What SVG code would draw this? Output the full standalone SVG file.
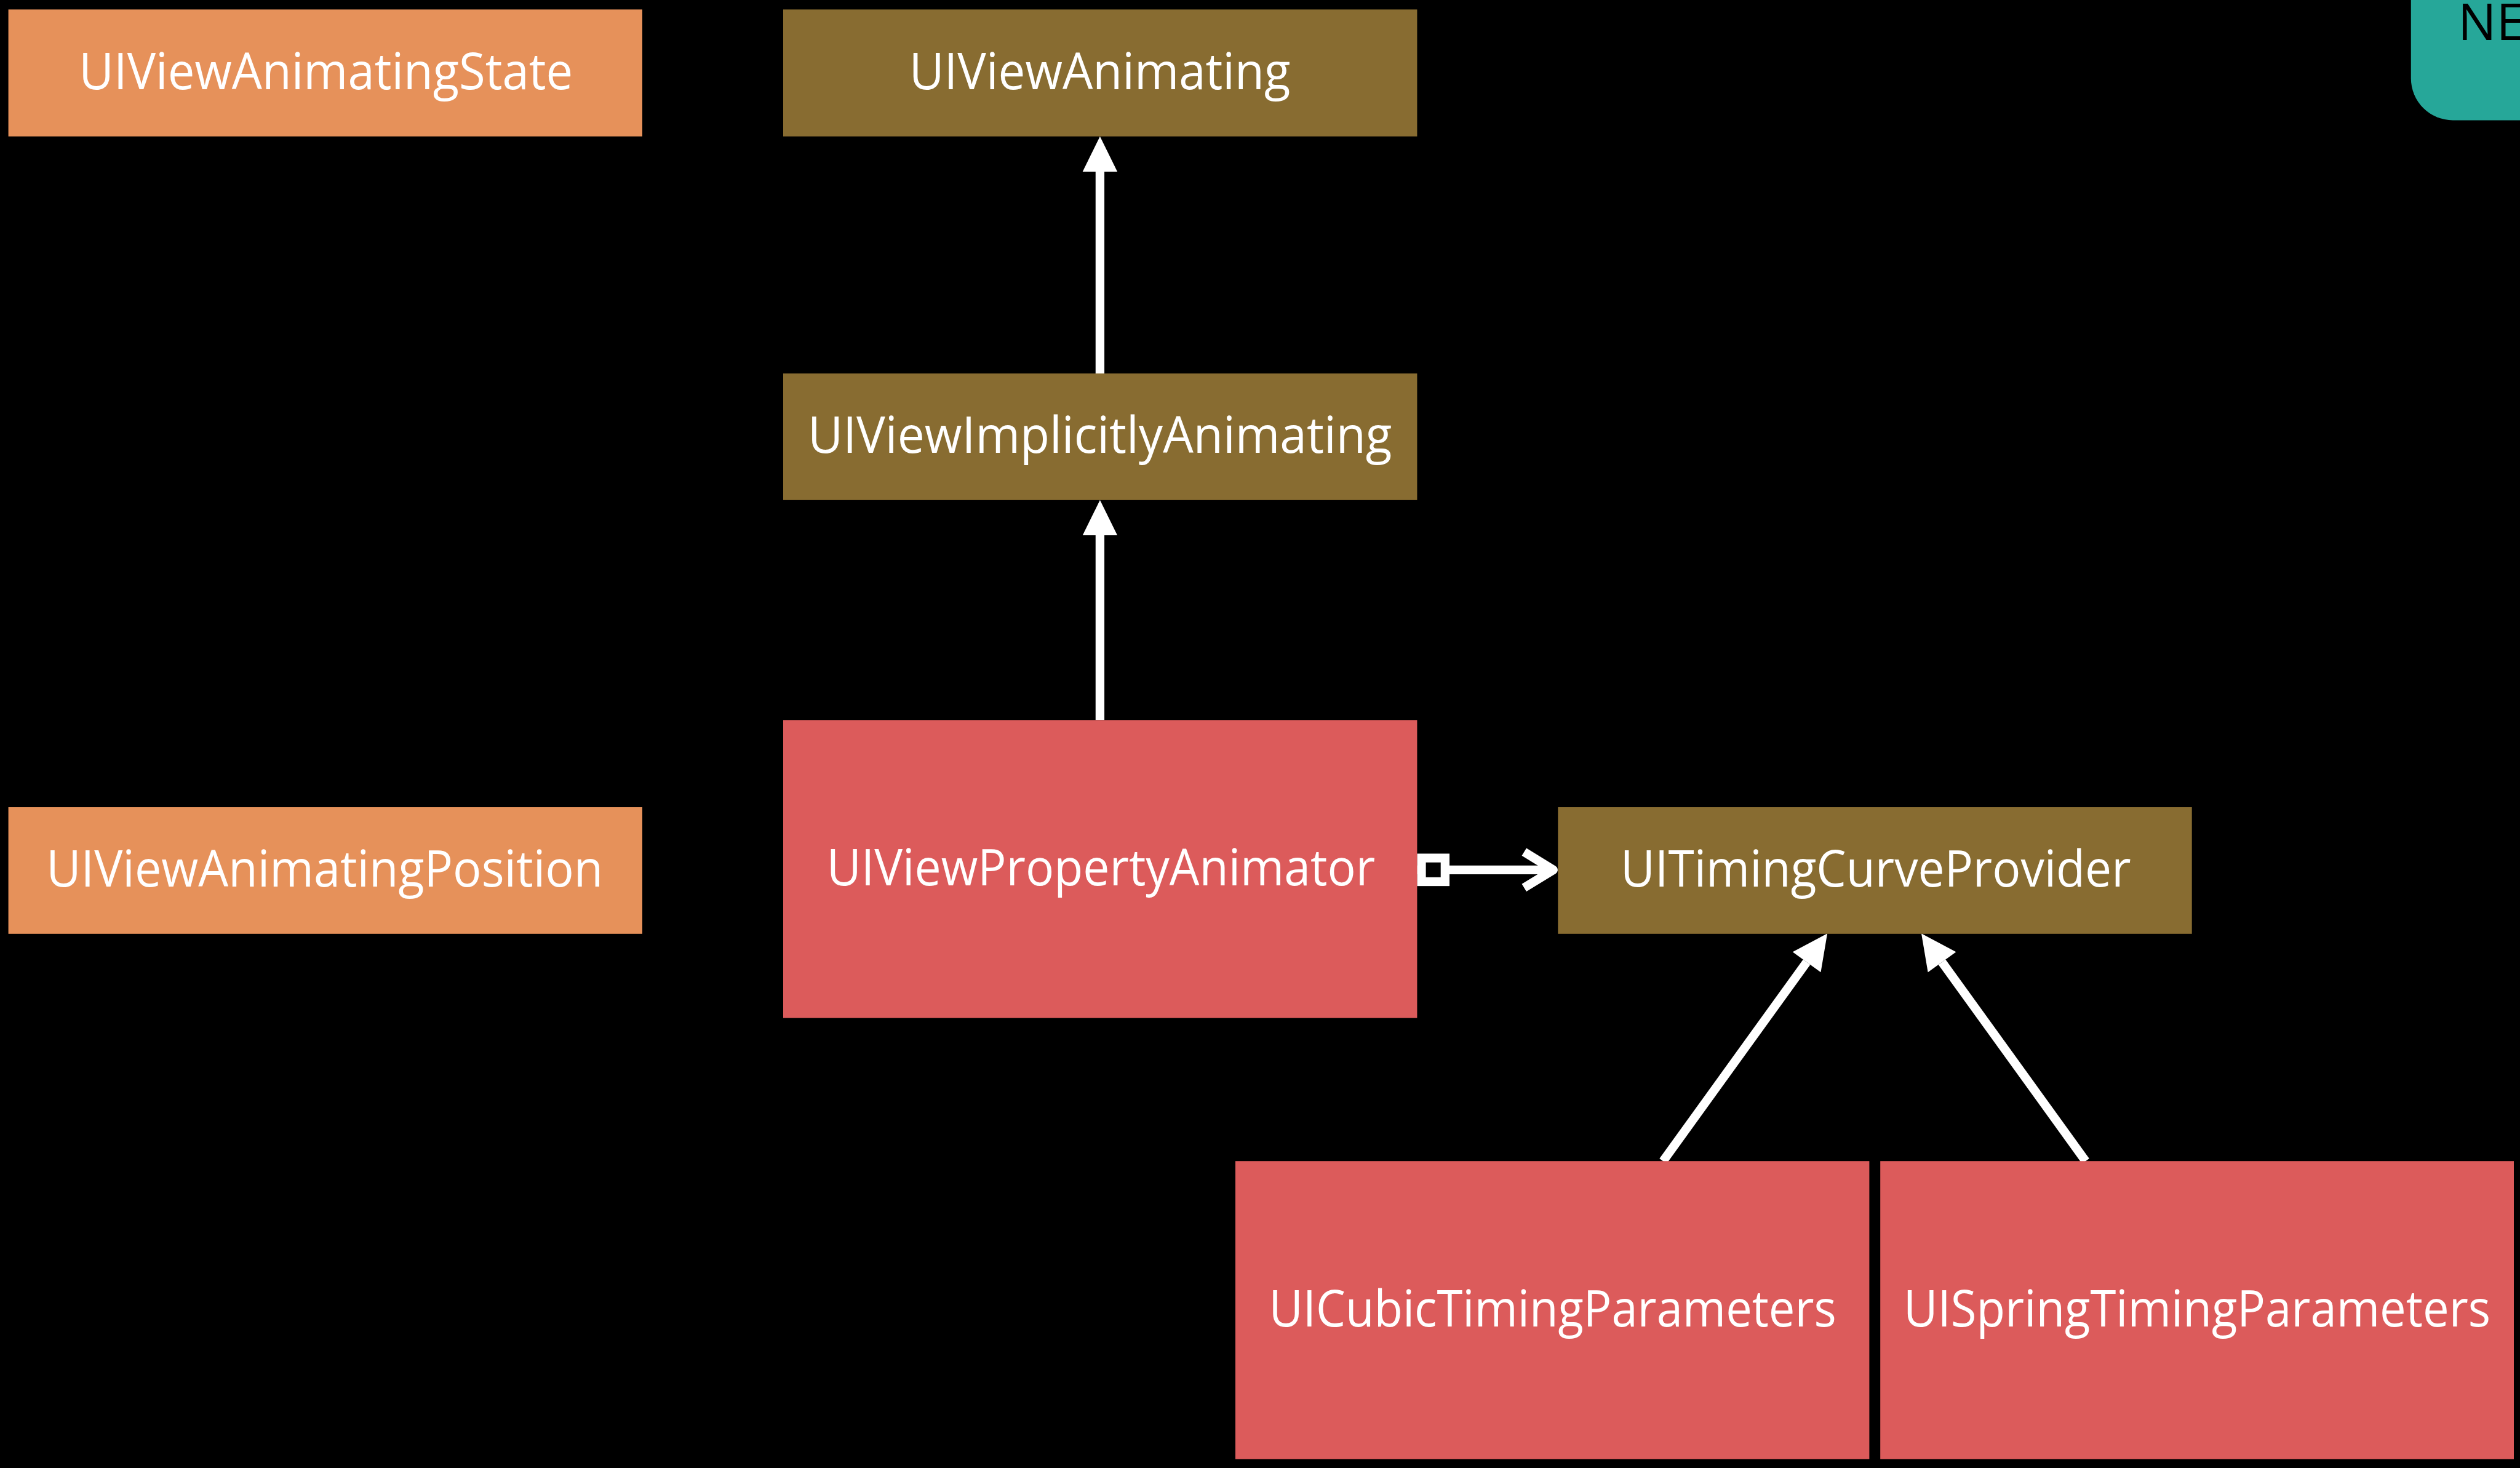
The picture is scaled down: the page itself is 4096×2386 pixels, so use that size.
<svg xmlns="http://www.w3.org/2000/svg" width="4096" height="2386" viewBox="0 0 4096 2386">
  <style>
    .bg { fill: #000000; }
    .protocol { fill: #886C31; }
    .enum { fill: #E6915A; }
    .class { fill: #DC5B5B; }
    .badge { fill: #26A799; }
    .label { font-family: "Open Sans", "Noto Sans", "Liberation Sans", sans-serif; font-size: 83px; fill: #FFFFFF; text-anchor: middle; }
    .badge-label { font-family: "Open Sans", "Noto Sans", "Liberation Sans", sans-serif; font-size: 83px; fill: #000000; }
    .edge { stroke: #FFFFFF; stroke-width: 14.3; fill: none; }
  </style>
  <defs>
    <!-- filled triangle head for inheritance / conformance -->
    <marker id="head-filled" markerUnits="userSpaceOnUse" orient="auto" refX="0" refY="28.2" markerWidth="58" markerHeight="57" overflow="visible">
      <path d="M0,0 L57.2,28.2 L0,56.4 Z" fill="#FFFFFF"/>
    </marker>
    <!-- open chevron head for the association -->
    <marker id="head-open" markerUnits="userSpaceOnUse" orient="auto" refX="0" refY="0" markerWidth="60" markerHeight="70" overflow="visible">
      <path d="M-47.5,-29.1 L0,0 L-47.5,29.1" fill="none" stroke="#FFFFFF" stroke-width="14.3" stroke-linejoin="round"/>
    </marker>
    <!-- hollow square on the owning end -->
    <marker id="tail-square" markerUnits="userSpaceOnUse" orient="auto" refX="0" refY="0" markerWidth="60" markerHeight="60" overflow="visible">
      <rect x="7.15" y="-19.2" width="38.4" height="38.4" fill="#000000" stroke="#FFFFFF" stroke-width="14.3"/>
    </marker>
  </defs>

  <rect class="bg" x="0" y="0" width="4096" height="2386"/>

  <!-- badge in the top right corner -->
  <g id="badge-new">
    <rect class="badge" x="3918.8" y="-120" width="300" height="315.4" rx="68" ry="68"/>
    <text class="badge-label" x="3995" y="64.5">NEW</text>
  </g>

  <g id="connectors">
    <!-- UIViewImplicitlyAnimating -> UIViewAnimating -->
    <path class="edge" d="M1787.9,607 L1787.9,278.9" marker-end="url(#head-filled)"/>
    <!-- UIViewPropertyAnimator -> UIViewImplicitlyAnimating -->
    <path class="edge" d="M1787.9,1170.3 L1787.9,870" marker-end="url(#head-filled)"/>
    <!-- UIViewPropertyAnimator -> UITimingCurveProvider -->
    <path class="edge" d="M2303.3,1413.8 L2524.8,1413.8" marker-start="url(#tail-square)" marker-end="url(#head-open)"/>
    <!-- UICubicTimingParameters -> UITimingCurveProvider -->
    <path class="edge" d="M2703.1,1887.2 L2936.6,1563.7" marker-end="url(#head-filled)"/>
    <!-- UISpringTimingParameters -> UITimingCurveProvider -->
    <path class="edge" d="M3390.0,1887.2 L3156.5,1563.7" marker-end="url(#head-filled)"/>
  </g>

  <g id="node-uiviewanimatingstate">
    <rect class="enum" x="13.6" y="15.4" width="1030.4" height="206.3"/>
    <text class="label" x="529.7" y="144.5" textLength="803" lengthAdjust="spacingAndGlyphs">UIViewAnimatingState</text>
  </g>

  <g id="node-uiviewanimating">
    <rect class="protocol" x="1273" y="15.4" width="1030.4" height="206.3"/>
    <text class="label" x="1787.5" y="144.5" textLength="619.7" lengthAdjust="spacingAndGlyphs">UIViewAnimating</text>
  </g>

  <g id="node-uiviewimplicitlyanimating">
    <rect class="protocol" x="1273" y="607" width="1030.4" height="205.8"/>
    <text class="label" x="1787.7" y="736" textLength="949.5" lengthAdjust="spacingAndGlyphs">UIViewImplicitlyAnimating</text>
  </g>

  <g id="node-uiviewpropertyanimator">
    <rect class="class" x="1273" y="1170.3" width="1030.4" height="484.3"/>
    <text class="label" x="1789.4" y="1438.6" textLength="891.4" lengthAdjust="spacingAndGlyphs">UIViewPropertyAnimator</text>
  </g>

  <g id="node-uiviewanimatingposition">
    <rect class="enum" x="13.6" y="1312" width="1030.4" height="205.8"/>
    <text class="label" x="527.7" y="1440.8" textLength="905" lengthAdjust="spacingAndGlyphs">UIViewAnimatingPosition</text>
  </g>

  <g id="node-uitimingcurveprovider">
    <rect class="protocol" x="2532.3" y="1312" width="1030.4" height="205.8"/>
    <text class="label" x="3048.8" y="1441" textLength="829.6" lengthAdjust="spacingAndGlyphs">UITimingCurveProvider</text>
  </g>

  <g id="node-uicubictimingparameters">
    <rect class="class" x="2008" y="1887.2" width="1030.4" height="484.3"/>
    <text class="label" x="2523.6" y="2156.1" textLength="922.2" lengthAdjust="spacingAndGlyphs">UICubicTimingParameters</text>
  </g>

  <g id="node-uispringtimingparameters">
    <rect class="class" x="3056.2" y="1887.2" width="1029.8" height="484.3"/>
    <text class="label" x="3571.1" y="2156.1" textLength="954" lengthAdjust="spacingAndGlyphs">UISpringTimingParameters</text>
  </g>
</svg>
